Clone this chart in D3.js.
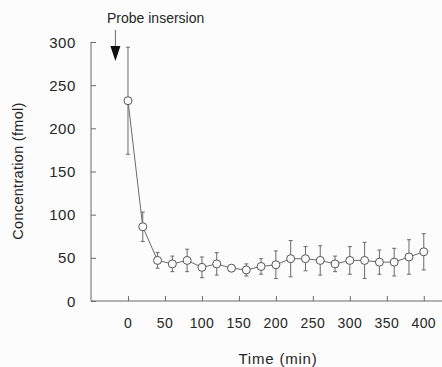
<!DOCTYPE html>
<html>
<head>
<meta charset="utf-8">
<script src="https://cdn.jsdelivr.net/npm/d3@7"></script>
<style>
  body { margin: 0; background: #fcfcfc; }
  svg { display: block; font-family: "Liberation Sans", Arial, sans-serif; }
</style>
</head>
<body>
<div id="chart"></div>
<script>
// Width and height
var w = 442;
var h = 367;

// data
var times = [0, 20, 40, 60, 80, 100, 120, 140, 160, 180, 200, 220, 240, 260, 280, 300, 320, 340, 360, 380, 400];
var conc = [232, 86, 47, 43, 47, 39, 43, 38, 36, 40, 42, 49, 49, 47, 43, 47, 47, 45, 45, 51, 57];
var sem = [62, 17, 9, 9, 13, 12, 13, 2, 7, 9, 16, 21, 14, 17, 9, 16, 21, 14, 16, 20, 21];
var xTicks = [0, 50, 100, 150, 200, 250, 300, 350, 400];
var yTicks = [0, 50, 100, 150, 200, 250, 300];
var insertionTime = -17;

var dataset = times.map(function(t, i) {
	return { t: t, v: conc[i], e: sem[i] };
});

var x = d3.scaleLinear().domain([-50, 426]).range([91, 443]);
var y = d3.scaleLinear().domain([0, 300]).range([301, 42]);

var svg = d3.select("#chart")
			.append("svg")
			.attr("width", w)
			.attr("height", h);

var lineCol = "#6a6a6a";
var textCol = "#262626";

// y axis, ticks pointing inward
var yAxis = svg.append("g")
			.attr("transform", "translate(" + x(-50) + ",0)")
			.call(d3.axisRight(y).tickValues(yTicks).tickSize(5).tickFormat(""));
yAxis.select(".domain").attr("d", "M0," + y(300) + "V" + y(0));

svg.selectAll(".ylab")
	.data(yTicks)
	.enter().append("text")
	.attr("x", 76)
	.attr("y", function(d) { return y(d) + 5.5; })
	.attr("text-anchor", "end")
	.style("font-size", "15px")
	.style("letter-spacing", "0.6px")
	.style("fill", textCol)
	.text(function(d) { return d; });

// x axis, ticks pointing up
var xAxis = svg.append("g")
			.attr("transform", "translate(0," + y(0) + ")")
			.call(d3.axisTop(x).tickValues(xTicks).tickSize(5).tickFormat(""));
xAxis.select(".domain").attr("d", "M" + x(-50) + ",0H" + w);

svg.selectAll(".xlab")
	.data(xTicks)
	.enter().append("text")
	.attr("x", function(d) { return x(d); })
	.attr("y", 328)
	.attr("text-anchor", "middle")
	.style("font-size", "14px")
	.style("letter-spacing", "0.4px")
	.style("fill", textCol)
	.text(function(d) { return d; });

svg.selectAll(".domain, .tick line")
	.attr("stroke", lineCol)
	.attr("stroke-width", 1);

// axis titles
svg.append("text")
	.attr("transform", "translate(23,171) rotate(-90)")
	.attr("text-anchor", "middle")
	.style("font-size", "14.5px")
	.style("letter-spacing", "0.3px")
	.style("fill", textCol)
	.text("Concentration (fmol)");

svg.append("text")
	.attr("x", 278)
	.attr("y", 364)
	.attr("text-anchor", "middle")
	.style("font-size", "15px")
	.style("letter-spacing", "0.8px")
	.style("fill", textCol)
	.text("Time (min)");

// probe insertion marker
svg.append("text")
	.attr("x", 107)
	.attr("y", 23)
	.style("font-size", "14px")
	.style("fill", textCol)
	.text("Probe insersion");

var ax = x(insertionTime);
svg.append("line")
	.attr("x1", ax).attr("x2", ax)
	.attr("y1", 30).attr("y2", 50)
	.attr("stroke", lineCol);
svg.append("path")
	.attr("d", "M" + (ax - 5) + ",46L" + (ax + 5) + ",46L" + ax + ",61Z")
	.style("fill", "#111");

// connecting line
var line = d3.line()
			.x(function(d) { return x(d.t); })
			.y(function(d) { return y(d.v); });

svg.append("path")
	.datum(dataset)
	.attr("d", line)
	.attr("fill", "none")
	.attr("stroke", lineCol)
	.attr("stroke-width", 1);

// error bars
var bars = svg.selectAll(".err")
			.data(dataset)
			.enter().append("g");

bars.append("line")
	.attr("x1", function(d) { return x(d.t); })
	.attr("x2", function(d) { return x(d.t); })
	.attr("y1", function(d) { return y(d.v + d.e); })
	.attr("y2", function(d) { return y(d.v - d.e); })
	.attr("stroke", lineCol);

bars.selectAll(".cap")
	.data(function(d) { return [d.v + d.e, d.v - d.e]; })
	.enter().append("line")
	.attr("x1", function() { return x(d3.select(this.parentNode).datum().t) - 2; })
	.attr("x2", function() { return x(d3.select(this.parentNode).datum().t) + 2; })
	.attr("y1", function(v) { return y(v); })
	.attr("y2", function(v) { return y(v); })
	.attr("stroke", lineCol);

// open circle markers
svg.selectAll(".pt")
	.data(dataset)
	.enter().append("circle")
	.attr("cx", function(d) { return x(d.t); })
	.attr("cy", function(d) { return y(d.v); })
	.attr("r", 4)
	.style("fill", "#fcfcfc")
	.style("stroke", "#555")
	.style("stroke-width", 1);
</script>
</body>
</html>
